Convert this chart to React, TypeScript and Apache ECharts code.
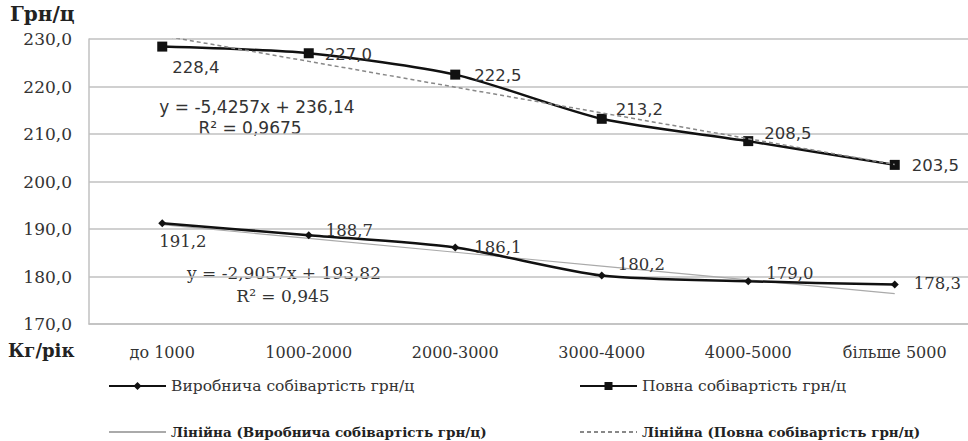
import React, { useEffect, useRef } from "react";
import * as echarts from "echarts";

const categories = ["до 1000", "1000-2000", "2000-3000", "3000-4000", "4000-5000", "більше 5000"];
const productionCost = [191.2, 188.7, 186.1, 180.2, 179.0, 178.3];
const fullCost = [228.4, 227.0, 222.5, 213.2, 208.5, 203.5];
const productionTrend = [190.91, 188.01, 185.1, 182.2, 179.29, 176.39];
const fullTrend = [230.71, 225.29, 219.86, 214.44, 209.01, 203.59];
const yTicks = { min: 170, max: 230, interval: 10 };
const names = {
  production: "Виробнича собівартість грн/ц",
  full: "Повна собівартість грн/ц",
  productionTrend: "Лінійна (Виробнича собівартість грн/ц)",
  fullTrend: "Лінійна (Повна собівартість грн/ц)",
};
const equations = {
  full: "y = -5,4257x + 236,14",
  fullR2: "R² = 0,9675",
  production: "y = -2,9057x + 193,82",
  productionR2: "R² = 0,945",
};

const fullOffsets: [number, number][] = [[5, 21], [11, 1], [14, 1], [9, -9], [11, -8], [12, 1]];
const prodOffsets: [number, number][] = [[-7, 18], [13, -5], [15, 0], [12, -11], [14, -8], [15, -1]];

const fmt = (v: number) => v.toFixed(1).replace(".", ",");

export default function App() {
  const ref = useRef<HTMLDivElement>(null);
  useEffect(() => {
    const chart = echarts.init(ref.current!, null, { renderer: "svg" });
    const serif = "DejaVu Serif";
    const sans = "DejaVu Sans";
    const mk = (vals: number[], offs: [number, number][], font: string) =>
      vals.map((v, i) => ({
        value: v,
        label: {
          show: true,
          position: "right",
          distance: 0,
          offset: offs[i],
          formatter: () => fmt(v),
          fontFamily: font,
          fontSize: 16.5,
          color: "#333",
        },
      }));
    const legendBase = {
      orient: "horizontal",
      itemWidth: 57,
      itemHeight: 10,
      itemGap: 0,
      padding: 0,
      selectedMode: false,
    };
    const hiddenSymbol = { color: "rgba(0,0,0,0)", borderWidth: 0, opacity: 0 };
    chart.setOption({
      animation: false,
      backgroundColor: "#fff",
      grid: { left: 89, top: 39, width: 888, height: 285, containLabel: false },
      xAxis: {
        type: "category",
        data: categories,
        boundaryGap: true,
        axisLine: { show: true, lineStyle: { color: "#c0c0c0", width: 1.5 } },
        axisTick: { show: false },
        axisLabel: { fontFamily: serif, fontSize: 16, color: "#333", margin: 20 },
        splitLine: { show: false },
      },
      yAxis: {
        type: "value",
        min: yTicks.min,
        max: yTicks.max,
        interval: yTicks.interval,
        axisLine: { show: true, lineStyle: { color: "#c0c0c0", width: 1.5 } },
        axisTick: { show: false },
        axisLabel: {
          fontFamily: serif,
          fontSize: 17,
          color: "#333",
          margin: 17,
          formatter: (v: number) => fmt(v),
        },
        splitLine: { show: true, lineStyle: { color: "#c0c0c0", width: 1.5 } },
      },
      legend: [
        { ...legendBase, left: 108, top: 378, data: [names.production], textStyle: { fontFamily: serif, fontSize: 15.5, color: "#333" } },
        { ...legendBase, left: 579, top: 378, data: [names.full], textStyle: { fontFamily: serif, fontSize: 15.5, color: "#333" } },
        {
          ...legendBase,
          left: 108,
          top: 425,
          data: [{ name: names.productionTrend, itemStyle: hiddenSymbol }],
          textStyle: { fontFamily: serif, fontSize: 13.5, fontWeight: "bold", color: "#222" },
        },
        {
          ...legendBase,
          left: 579,
          top: 425,
          data: [{ name: names.fullTrend, itemStyle: hiddenSymbol }],
          textStyle: { fontFamily: serif, fontSize: 13.5, fontWeight: "bold", color: "#222" },
        },
      ],
      series: [
        {
          name: names.productionTrend,
          type: "line",
          data: productionTrend,
          symbol: "none",
          lineStyle: { color: "#aaaaaa", width: 1.2, type: "solid" },
          itemStyle: { color: "#aaaaaa" },
          z: 1,
        },
        {
          name: names.fullTrend,
          type: "line",
          data: fullTrend,
          symbol: "none",
          lineStyle: { color: "#888888", width: 1.5, type: [4, 3] },
          itemStyle: { color: "#888888" },
          z: 3,
        },
        {
          name: names.production,
          type: "line",
          data: mk(productionCost, prodOffsets, serif),
          smooth: 0.25,
          symbol: "diamond",
          symbolSize: 8,
          lineStyle: { color: "#111", width: 2.5 },
          itemStyle: { color: "#111" },
          z: 2,
        },
        {
          name: names.full,
          type: "line",
          data: mk(fullCost, fullOffsets, sans),
          smooth: 0.25,
          symbol: "rect",
          symbolSize: 10,
          lineStyle: { color: "#111", width: 2.5 },
          itemStyle: { color: "#111" },
          z: 2,
        },
      ],
      graphic: [
        { type: "text", left: 10, top: 4, style: { text: "Грн/ц", fontFamily: serif, fontSize: 20, fontWeight: "bold", fill: "#222" } },
        { type: "text", left: 8, top: 341, style: { text: "Кг/рік", fontFamily: serif, fontSize: 18, fontWeight: "bold", fill: "#222" } },
        { type: "text", x: 257, y: 107, style: { text: equations.full, fontFamily: sans, fontSize: 17, fill: "#333", align: "center", verticalAlign: "middle" } },
        { type: "text", x: 250, y: 128, style: { text: equations.fullR2, fontFamily: sans, fontSize: 17, fill: "#333", align: "center", verticalAlign: "middle" } },
        { type: "text", x: 284, y: 273, style: { text: equations.production, fontFamily: serif, fontSize: 17, fill: "#333", align: "center", verticalAlign: "middle" } },
        { type: "text", x: 283, y: 296, style: { text: equations.productionR2, fontFamily: serif, fontSize: 17, fill: "#333", align: "center", verticalAlign: "middle" } },
      ],
    });
    return () => chart.dispose();
  }, []);
  return <div ref={ref} style={{ position: "fixed", left: 0, top: 0, width: 968, height: 441 }} />;
}
